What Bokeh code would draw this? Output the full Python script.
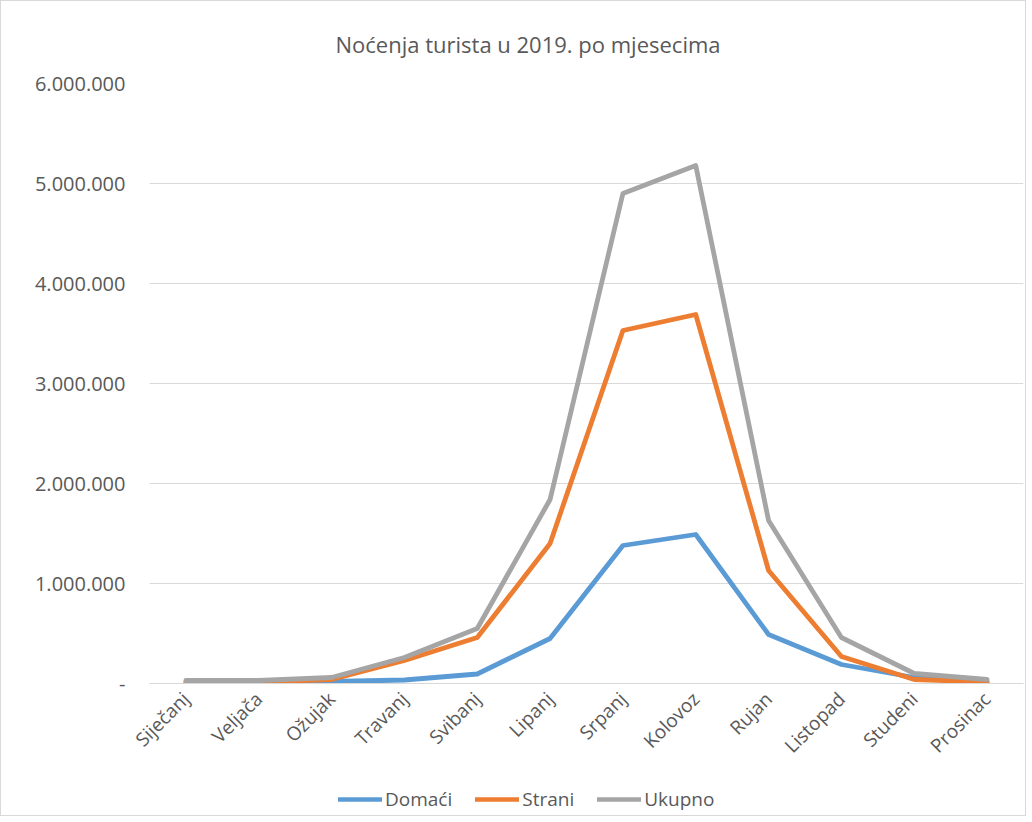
import math
from bokeh.plotting import figure
from bokeh.layouts import column
from bokeh.models import ColumnDataSource, FactorRange, Range1d, FixedTicker, Legend, LegendItem
from bokeh.embed import file_html
from bokeh.resources import INLINE

months = ["Siječanj", "Veljača", "Ožujak", "Travanj", "Svibanj", "Lipanj",
          "Srpanj", "Kolovoz", "Rujan", "Listopad", "Studeni", "Prosinac"]
domaci = [15000, 15000, 20000, 35000, 95000, 450000, 1380000, 1490000, 490000, 190000, 60000, 20000]
strani = [10000, 15000, 40000, 230000, 460000, 1400000, 3530000, 3690000, 1130000, 270000, 40000, 15000]
ukupno = [30000, 30000, 60000, 260000, 550000, 1840000, 4900000, 5180000, 1630000, 460000, 100000, 40000]
y_ticks = [0, 1000000, 2000000, 3000000, 4000000, 5000000, 6000000]
y_tick_labels = ["-", "1.000.000", "2.000.000", "3.000.000", "4.000.000", "5.000.000", "6.000.000"]
series_names = ["Domaći", "Strani", "Ukupno"]
colors = ["#5B9BD5", "#ED7D31", "#A5A5A5"]

FONT = "Open Sans"
TXT = "#595959"

src = ColumnDataSource(dict(m=months, d=domaci, s=strani, u=ukupno))

p = figure(x_range=FactorRange(*months, range_padding=0), y_range=Range1d(0, 6000000),
           width=1024, height=782, output_backend="svg", toolbar_location=None,
           min_border_left=148, min_border_right=2, min_border_top=82, min_border_bottom=100)

p.title.text = "Noćenja turista u 2019. po mjesecima"
p.title.align = "left"
p.title.vertical_align = "middle"
p.title.text_font = FONT
p.title.text_font_size = "22px"
p.title.text_font_style = "normal"
p.title.text_color = TXT
p.title.standoff = 48
p.title.offset = 186

p.outline_line_color = None
p.xgrid.grid_line_color = None
p.ygrid.grid_line_color = "#D9D9D9"
p.ygrid.grid_line_width = 1

p.yaxis.ticker = FixedTicker(ticks=y_ticks)
p.yaxis.major_label_overrides = {t: l for t, l in zip(y_ticks, y_tick_labels)}
p.yaxis.axis_line_color = None
p.yaxis.major_tick_line_color = None
p.yaxis.minor_tick_line_color = None
p.yaxis.major_label_text_font = FONT
p.yaxis.major_label_text_font_size = "20px"
p.yaxis.major_label_text_color = TXT
p.yaxis.major_label_standoff = 18

p.xaxis.axis_line_color = "#D9D9D9"
p.xaxis.major_tick_line_color = None
p.xaxis.minor_tick_line_color = None
p.xaxis.major_tick_out = 0
p.xaxis.major_label_orientation = math.pi / 4
p.xaxis.major_label_text_font = FONT
p.xaxis.major_label_text_font_size = "19px"
p.xaxis.major_label_text_color = TXT
p.xaxis.major_label_standoff = 12

for col, c in zip(["d", "s", "u"], colors):
    p.line("m", col, source=src, line_color=c, line_width=4.8,
           line_join="round", line_cap="round")

# legend strip below the chart (its lines lie outside its visible range; only the keys show)
lg = figure(width=1024, height=32, output_backend="svg", toolbar_location=None,
            x_axis_type=None, y_axis_type=None,
            x_range=FactorRange(*months, range_padding=0), y_range=Range1d(-2e7, -1e7),
            min_border_left=0, min_border_right=0, min_border_top=0, min_border_bottom=0)
lg.outline_line_color = None
lg.xgrid.grid_line_color = None
lg.ygrid.grid_line_color = None
swatches = []
for col, c in zip(["d", "s", "u"], colors):
    swatches.append(lg.line("m", col, source=src, line_color=c, line_width=4.5, line_cap="round"))

legend = Legend(items=[LegendItem(label=n, renderers=[r]) for n, r in zip(series_names, swatches)],
                orientation="horizontal", location=(189, 3),
                label_text_font=FONT, label_text_font_size="19px", label_text_color=TXT,
                glyph_width=44, glyph_height=20, spacing=23, border_line_color=None,
                background_fill_alpha=0, padding=2, margin=0, label_standoff=3)
lg.add_layout(legend, "center")

layout = column(p, lg, spacing=0, styles={"border": "1px solid #D9D9D9"})

open("out.html", "w").write(file_html(layout, INLINE))
